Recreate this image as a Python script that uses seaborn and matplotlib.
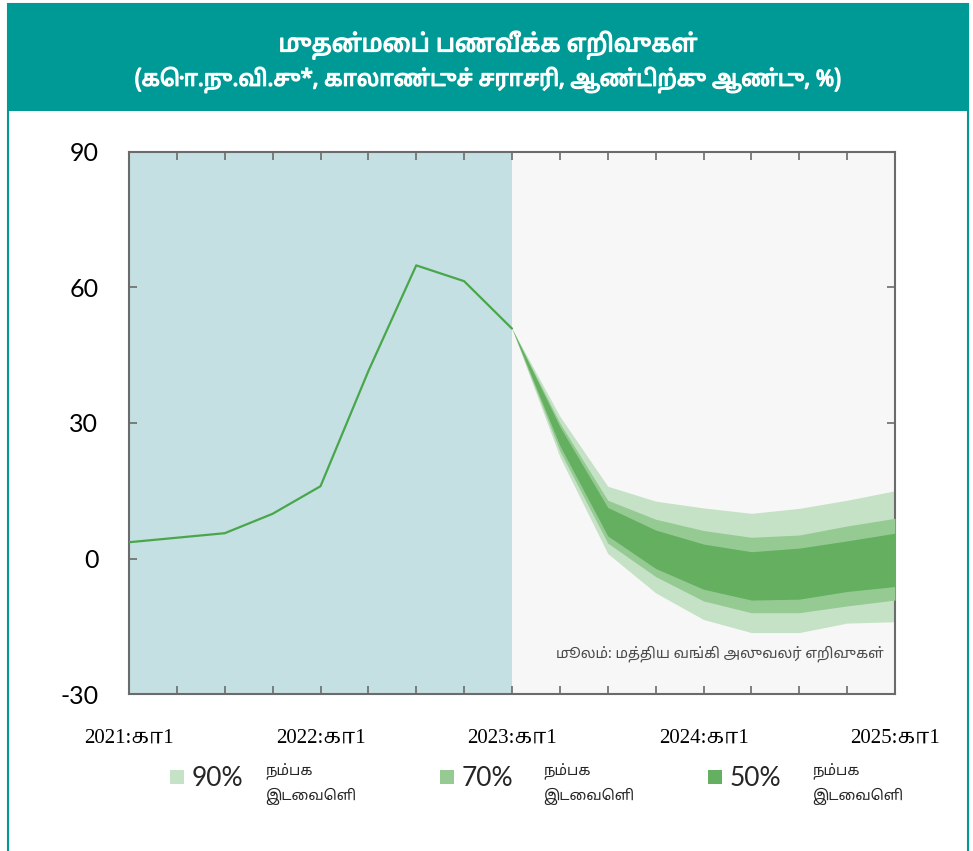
import numpy as np
import pandas as pd
import matplotlib
matplotlib.use("Agg")
import matplotlib.pyplot as plt
import matplotlib.patheffects as pe
from matplotlib.patches import Rectangle
import seaborn as sns

# ---------------- data ----------------
quarter_idx = list(range(17))  # 2021:Q1 ... 2025:Q1
tick_labels = ["2021:கா1", "", "", "", "2022:கா1", "", "", "", "2023:கா1",
               "", "", "", "2024:கா1", "", "", "", "2025:கா1"]
hist_x = list(range(9))
hist_values = [3.6, 4.6, 5.6, 9.9, 16.0, 41.5, 64.9, 61.4, 50.9]
fc_x = list(range(8, 17))
upper90 = [50.9, 31.5, 16.0, 12.7, 11.2, 10.0, 11.1, 12.9, 15.0]
upper70 = [50.9, 30.0, 12.9, 8.7, 6.2, 4.7, 5.2, 7.2, 8.9]
upper50 = [50.9, 29.2, 11.3, 6.3, 3.2, 1.5, 2.3, 3.9, 5.6]
lower50 = [50.9, 25.0, 5.0, -2.2, -6.8, -9.2, -9.0, -7.3, -6.2]
lower70 = [50.9, 23.8, 3.4, -4.0, -9.4, -12.0, -12.0, -10.5, -9.2]
lower90 = [50.9, 22.5, 1.1, -7.6, -13.5, -16.4, -16.4, -14.3, -14.0]
y_ticks = [-30, 0, 30, 60, 90]
legend_labels = ["90%", "70%", "50%"]
legend_sub = "நம்பக\nஇடைவெளி"
title = "முதன்மைப் பணவீக்க எறிவுகள்"
subtitle = "(கொ.நு.வி.சு*, காலாண்டுச் சராசரி, ஆண்டிற்கு ஆண்டு, %)"
source = "மூலம்: மத்திய வங்கி அலுவலர் எறிவுகள்"

sns.set_theme(style="white")
plt.rcParams['font.family'] = ['Lato', 'Noto Sans Tamil', 'DejaVu Sans']
TAMIL = ['Noto Sans Tamil', 'DejaVu Sans']

C_TEAL = "#009a96"
C90, C70, C50 = "#c6e2c6", "#95cb93", "#64af60"
C_LINE = "#4aa64a"

W, H = 973, 851
fig = plt.figure(figsize=(W / 100, H / 100), dpi=100)

# frame and header
fig.patches.append(Rectangle((8 / W, -0.01), 960 / W, 1.01 - 4 / H, transform=fig.transFigure,
                             facecolor="white", edgecolor=C_TEAL, lw=1.5, zorder=-2))
fig.patches.append(Rectangle((8 / W, 1 - 111 / H), 960 / W, 107 / H, transform=fig.transFigure,
                             facecolor=C_TEAL, edgecolor="none", zorder=-1))
bold = [pe.withStroke(linewidth=0.9, foreground="white")]
fig.text(488 / W, 1 - 45 / H, title, color="white", fontsize=17.5,
         ha="center", va="center", family=TAMIL, path_effects=bold)
fig.text(488 / W, 1 - 80 / H, subtitle, color="white", fontsize=16,
         ha="center", va="center", family=TAMIL, path_effects=bold)

ax = fig.add_axes([129 / W, 1 - 694 / H, (895 - 129) / W, (694 - 152) / H])
ax.set_facecolor("#f7f7f7")
ax.axvspan(0, 8, color="#c4e0e2", lw=0, zorder=0)

ax.fill_between(fc_x, lower90, upper90, color=C90, lw=0, zorder=2)
ax.fill_between(fc_x, lower70, upper70, color=C70, lw=0, zorder=3)
ax.fill_between(fc_x, lower50, upper50, color=C50, lw=0, zorder=4)

df = pd.DataFrame({"q": hist_x, "v": hist_values})
sns.lineplot(data=df, x="q", y="v", ax=ax, color=C_LINE, lw=1.6, zorder=5)

ax.set_xlim(0, 16)
ax.set_ylim(-30, 90)
ax.set_xticks(quarter_idx)
ax.set_xticklabels(tick_labels, family=['Liberation Serif', 'Noto Serif Tamil', 'DejaVu Serif'],
                   fontsize=15)
ax.set_yticks(y_ticks)
ax.set_yticklabels([str(v) for v in y_ticks], fontsize=18)
ax.set_xlabel("")
ax.set_ylabel("")
for s in ax.spines.values():
    s.set_color("#6b6b6b")
    s.set_linewidth(1.5)
ax.tick_params(axis="both", direction="in", length=6, width=1.2, color="#6b6b6b",
               top=True, right=True, bottom=True, left=True)
ax.tick_params(axis="x", pad=25, colors="#6b6b6b", labelcolor="black")
ax.tick_params(axis="y", pad=22, colors="#6b6b6b", labelcolor="black")

ax.text(0.985, 0.075, source, transform=ax.transAxes, ha="right", va="center",
        fontsize=10.5, color="#4a4a4a", family=TAMIL)

# legend
items = [(170, legend_labels[0], C90, 265), (440, legend_labels[1], C70, 543),
         (708, legend_labels[2], C50, 812)]
for x0, lab, col, tx in items:
    fig.patches.append(Rectangle((x0 / W, 1 - 784 / H), 14 / W, 14 / H, transform=fig.transFigure,
                                 facecolor=col, edgecolor="none"))
    fig.text((x0 + 22) / W, 1 - 778 / H, lab, fontsize=19, ha="left", va="center")
    fig.text(tx / W, 1 - 784 / H, legend_sub, fontsize=10.5, ha="left", va="center",
             linespacing=1.6, family=TAMIL)

fig.savefig("out.png", dpi=100)
